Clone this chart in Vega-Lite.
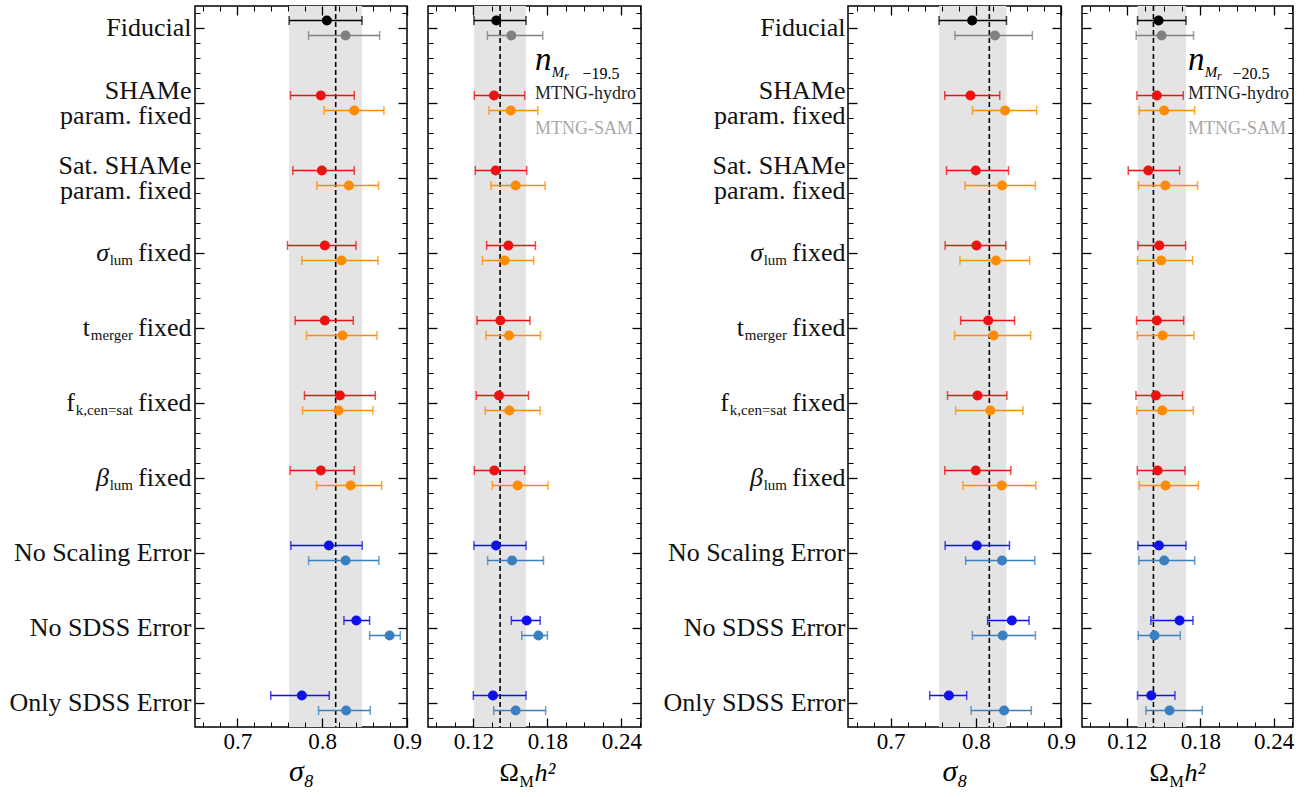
{
"$schema": "https://vega.github.io/schema/vega-lite/v6.json",
"background": "white",
"padding": {"left": 8, "top": 4, "right": 2, "bottom": 2},
"datasets": {
"truth": [{"p":"s8","t":0.8159},{"p":"om","t":0.1417}],
"sub": [{"r":3,"main":"σ","sub":"lum"},{"r":4,"main":"t","sub":"merger"},{"r":5,"main":"f","sub":"k,cen=sat"},{"r":6,"main":"β","sub":"lum"}],
"est": [
{"s":"19.5","p":"s8","r":0,"m":"hydro","v":0.8055,"lo":0.761,"hi":0.8469},
{"s":"19.5","p":"s8","r":0,"m":"SAM","v":0.8276,"lo":0.7839,"hi":0.8677},
{"s":"19.5","p":"s8","r":1,"m":"hydro","v":0.7984,"lo":0.7626,"hi":0.8378},
{"s":"19.5","p":"s8","r":1,"m":"SAM","v":0.8378,"lo":0.8024,"hi":0.8728},
{"s":"19.5","p":"s8","r":2,"m":"hydro","v":0.7996,"lo":0.7654,"hi":0.8378},
{"s":"19.5","p":"s8","r":2,"m":"SAM","v":0.8315,"lo":0.7937,"hi":0.8665},
{"s":"19.5","p":"s8","r":3,"m":"hydro","v":0.8031,"lo":0.7591,"hi":0.8398},
{"s":"19.5","p":"s8","r":3,"m":"SAM","v":0.8228,"lo":0.776,"hi":0.8657},
{"s":"19.5","p":"s8","r":4,"m":"hydro","v":0.8031,"lo":0.7681,"hi":0.8366},
{"s":"19.5","p":"s8","r":4,"m":"SAM","v":0.824,"lo":0.7815,"hi":0.8646},
{"s":"19.5","p":"s8","r":5,"m":"hydro","v":0.8209,"lo":0.7791,"hi":0.8626},
{"s":"19.5","p":"s8","r":5,"m":"SAM","v":0.8193,"lo":0.7768,"hi":0.8598},
{"s":"19.5","p":"s8","r":6,"m":"hydro","v":0.7984,"lo":0.7622,"hi":0.8378},
{"s":"19.5","p":"s8","r":6,"m":"SAM","v":0.8335,"lo":0.7933,"hi":0.8701},
{"s":"19.5","p":"s8","r":7,"m":"hydro","v":0.8079,"lo":0.763,"hi":0.8472},
{"s":"19.5","p":"s8","r":7,"m":"SAM","v":0.8276,"lo":0.7839,"hi":0.8669},
{"s":"19.5","p":"s8","r":8,"m":"hydro","v":0.8402,"lo":0.8256,"hi":0.8559},
{"s":"19.5","p":"s8","r":8,"m":"SAM","v":0.8795,"lo":0.8559,"hi":0.8921},
{"s":"19.5","p":"s8","r":9,"m":"hydro","v":0.776,"lo":0.7394,"hi":0.8083},
{"s":"19.5","p":"s8","r":9,"m":"SAM","v":0.8283,"lo":0.7957,"hi":0.8567},
{"s":"19.5","p":"om","r":0,"m":"hydro","v":0.1386,"lo":0.1205,"hi":0.1627},
{"s":"19.5","p":"om","r":0,"m":"SAM","v":0.1508,"lo":0.1314,"hi":0.1762},
{"s":"19.5","p":"om","r":1,"m":"hydro","v":0.1368,"lo":0.1208,"hi":0.1616},
{"s":"19.5","p":"om","r":1,"m":"SAM","v":0.1503,"lo":0.1327,"hi":0.1722},
{"s":"19.5","p":"om","r":2,"m":"hydro","v":0.1381,"lo":0.1216,"hi":0.1632},
{"s":"19.5","p":"om","r":2,"m":"SAM","v":0.1543,"lo":0.1343,"hi":0.1781},
{"s":"19.5","p":"om","r":3,"m":"hydro","v":0.1484,"lo":0.1308,"hi":0.1703},
{"s":"19.5","p":"om","r":3,"m":"SAM","v":0.1454,"lo":0.1273,"hi":0.1689},
{"s":"19.5","p":"om","r":4,"m":"hydro","v":0.1419,"lo":0.123,"hi":0.1659},
{"s":"19.5","p":"om","r":4,"m":"SAM","v":0.1489,"lo":0.1303,"hi":0.1743},
{"s":"19.5","p":"om","r":5,"m":"hydro","v":0.1408,"lo":0.1224,"hi":0.1646},
{"s":"19.5","p":"om","r":5,"m":"SAM","v":0.1492,"lo":0.1297,"hi":0.1741},
{"s":"19.5","p":"om","r":6,"m":"hydro","v":0.137,"lo":0.1208,"hi":0.1616},
{"s":"19.5","p":"om","r":6,"m":"SAM","v":0.1559,"lo":0.1354,"hi":0.1805},
{"s":"19.5","p":"om","r":7,"m":"hydro","v":0.1384,"lo":0.1205,"hi":0.1627},
{"s":"19.5","p":"om","r":7,"m":"SAM","v":0.1514,"lo":0.1316,"hi":0.1768},
{"s":"19.5","p":"om","r":8,"m":"hydro","v":0.1632,"lo":0.1508,"hi":0.1741},
{"s":"19.5","p":"om","r":8,"m":"SAM","v":0.1727,"lo":0.1592,"hi":0.18},
{"s":"19.5","p":"om","r":9,"m":"hydro","v":0.1359,"lo":0.12,"hi":0.1627},
{"s":"19.5","p":"om","r":9,"m":"SAM","v":0.1543,"lo":0.1365,"hi":0.1786},
{"s":"20.5","p":"s8","r":0,"m":"hydro","v":0.7957,"lo":0.7569,"hi":0.836},
{"s":"20.5","p":"s8","r":0,"m":"SAM","v":0.8225,"lo":0.7755,"hi":0.8664},
{"s":"20.5","p":"s8","r":1,"m":"hydro","v":0.7937,"lo":0.7636,"hi":0.8281},
{"s":"20.5","p":"s8","r":1,"m":"SAM","v":0.8344,"lo":0.796,"hi":0.8715},
{"s":"20.5","p":"s8","r":2,"m":"hydro","v":0.8,"lo":0.7656,"hi":0.8383},
{"s":"20.5","p":"s8","r":2,"m":"SAM","v":0.8308,"lo":0.7874,"hi":0.87},
{"s":"20.5","p":"s8","r":3,"m":"hydro","v":0.8008,"lo":0.764,"hi":0.8352},
{"s":"20.5","p":"s8","r":3,"m":"SAM","v":0.8237,"lo":0.7814,"hi":0.8632},
{"s":"20.5","p":"s8","r":4,"m":"hydro","v":0.8146,"lo":0.7822,"hi":0.8455},
{"s":"20.5","p":"s8","r":4,"m":"SAM","v":0.8209,"lo":0.7751,"hi":0.8644},
{"s":"20.5","p":"s8","r":5,"m":"hydro","v":0.802,"lo":0.7668,"hi":0.8364},
{"s":"20.5","p":"s8","r":5,"m":"SAM","v":0.817,"lo":0.7763,"hi":0.8553},
{"s":"20.5","p":"s8","r":6,"m":"hydro","v":0.8,"lo":0.7636,"hi":0.8411},
{"s":"20.5","p":"s8","r":6,"m":"SAM","v":0.8304,"lo":0.785,"hi":0.8704},
{"s":"20.5","p":"s8","r":7,"m":"hydro","v":0.8012,"lo":0.764,"hi":0.8395},
{"s":"20.5","p":"s8","r":7,"m":"SAM","v":0.8308,"lo":0.7881,"hi":0.8692},
{"s":"20.5","p":"s8","r":8,"m":"hydro","v":0.8423,"lo":0.8138,"hi":0.8625},
{"s":"20.5","p":"s8","r":8,"m":"SAM","v":0.8316,"lo":0.796,"hi":0.87},
{"s":"20.5","p":"s8","r":9,"m":"hydro","v":0.7684,"lo":0.7459,"hi":0.7893},
{"s":"20.5","p":"s8","r":9,"m":"SAM","v":0.8332,"lo":0.7945,"hi":0.8652},
{"s":"20.5","p":"om","r":0,"m":"hydro","v":0.1459,"lo":0.1287,"hi":0.1683},
{"s":"20.5","p":"om","r":0,"m":"SAM","v":0.1484,"lo":0.1276,"hi":0.1745},
{"s":"20.5","p":"om","r":1,"m":"hydro","v":0.1445,"lo":0.1282,"hi":0.1661},
{"s":"20.5","p":"om","r":1,"m":"SAM","v":0.1505,"lo":0.1301,"hi":0.1754},
{"s":"20.5","p":"om","r":2,"m":"hydro","v":0.1375,"lo":0.1211,"hi":0.1631},
{"s":"20.5","p":"om","r":2,"m":"SAM","v":0.1514,"lo":0.1295,"hi":0.1778},
{"s":"20.5","p":"om","r":3,"m":"hydro","v":0.1465,"lo":0.129,"hi":0.168},
{"s":"20.5","p":"om","r":3,"m":"SAM","v":0.1481,"lo":0.1287,"hi":0.1737},
{"s":"20.5","p":"om","r":4,"m":"hydro","v":0.1445,"lo":0.1279,"hi":0.1664},
{"s":"20.5","p":"om","r":4,"m":"SAM","v":0.1492,"lo":0.1285,"hi":0.1748},
{"s":"20.5","p":"om","r":5,"m":"hydro","v":0.1437,"lo":0.1274,"hi":0.1655},
{"s":"20.5","p":"om","r":5,"m":"SAM","v":0.1489,"lo":0.1282,"hi":0.1743},
{"s":"20.5","p":"om","r":6,"m":"hydro","v":0.1451,"lo":0.1285,"hi":0.1675},
{"s":"20.5","p":"om","r":6,"m":"SAM","v":0.1516,"lo":0.1301,"hi":0.1784},
{"s":"20.5","p":"om","r":7,"m":"hydro","v":0.1462,"lo":0.129,"hi":0.1683},
{"s":"20.5","p":"om","r":7,"m":"SAM","v":0.1505,"lo":0.1298,"hi":0.1754},
{"s":"20.5","p":"om","r":8,"m":"hydro","v":0.1631,"lo":0.1396,"hi":0.174},
{"s":"20.5","p":"om","r":8,"m":"SAM","v":0.1426,"lo":0.1293,"hi":0.1636},
{"s":"20.5","p":"om","r":9,"m":"hydro","v":0.1399,"lo":0.1287,"hi":0.1593},
{"s":"20.5","p":"om","r":9,"m":"SAM","v":0.1549,"lo":0.1355,"hi":0.1816}
]
},
"spacing": 21,
"bounds": "flush",
"hconcat": [
{
"width": 212, "height": 721,
"resolve": {"axis": {"x": "independent", "y": "independent"}},
"layer": [
{"data": {"name": "est"}, "transform": [{"filter": "datum.s==='19.5' && datum.p==='s8' && datum.r===0 && datum.m==='hydro'"}],
 "mark": {"type": "rect", "color": "#e4e4e4"},
 "encoding": {"x": {"field": "lo", "type": "quantitative", "scale": {"domain": [0.65, 0.9], "nice": false, "zero": false}, "axis": null}, "x2": {"field": "hi"}}},
{"data": {"name": "truth"}, "transform": [{"filter": "datum.p==='s8'"}],
 "mark": {"type": "rule", "color": "black", "strokeDash": [5, 3], "strokeWidth": 1.6},
 "encoding": {"x": {"field": "t", "type": "quantitative", "scale": {"domain": [0.65, 0.9], "nice": false, "zero": false}, "axis": null}}},
{"data": {"name": "est"}, "transform": [{"filter": "datum.s==='19.5' && datum.p==='s8'"}, {"calculate": "datum.r + (datum.m==='SAM' ? 0.1 : -0.1)", "as": "yp"}, {"calculate": "(datum.r==0 ? 'fid' : (datum.r<7 ? 'par' : 'err')) + '-' + datum.m", "as": "key"}],
 "mark": {"type": "rule", "strokeWidth": 1.5},
 "encoding": {
  "x": {"field": "lo", "type": "quantitative", "scale": {"domain": [0.65, 0.9], "nice": false, "zero": false}, "axis": {"orient": "bottom", "values": [0.7, 0.8, 0.9], "format": ".1f", "offset": -9, "tickSize": 9, "tickWidth": 1.3, "tickColor": "black", "labelFontSize": 23, "labelPadding": 3, "labelFlush": false, "labelOverlap": false, "labelBound": false, "labelColor": "black", "title": "σ₈", "titleFontSize": 30, "titleFontStyle": "italic", "titleFontWeight": "normal", "titlePadding": 3, "titleColor": "black", "zindex": 2, "grid": false, "domain": false}},
  "x2": {"field": "hi"},
  "y": {"field": "yp", "type": "quantitative", "scale": {"domain": [-0.293, 9.32], "reverse": true, "nice": false, "zero": false}, "axis": {"orient": "left", "values": [0,1,2,3,4,5,6,7,8,9], "offset": -9, "tickSize": 9, "tickWidth": 1.3, "tickColor": "black", "labelExpr": "['Fiducial',['SHAMe','param. fixed'],['Sat. SHAMe','param. fixed'],'fixed','fixed','fixed','fixed','No Scaling Error','No SDSS Error','Only SDSS Error'][datum.value]", "labelOffset": {"condition": {"test": "datum.value===1 || datum.value===2", "value": -12.5}, "value": 0}, "labelFontSize": 26, "labelPadding": 4, "labelLineHeight": 25, "labelLimit": 400, "labelOverlap": false, "labelBound": false, "labelFlush": false, "labelColor": "#111111", "title": null, "zindex": 2, "grid": false, "domain": false}},
  "color": {"field": "key", "type": "nominal", "scale": {"domain": ["fid-hydro","fid-SAM","par-hydro","par-SAM","err-hydro","err-SAM"], "range": ["#000000","#808080","#ee1111","#ff8c00","#1010ee","#3a7fbf"]}, "legend": null}}},
{"data": {"name": "est"}, "transform": [{"filter": "datum.s==='19.5' && datum.p==='s8'"}, {"calculate": "datum.r + (datum.m==='SAM' ? 0.1 : -0.1)", "as": "yp"}, {"calculate": "(datum.r==0 ? 'fid' : (datum.r<7 ? 'par' : 'err')) + '-' + datum.m", "as": "key"}],
 "mark": {"type": "tick", "orient": "vertical", "size": 9, "thickness": 1.5, "opacity": 0.75},
 "encoding": {
  "x": {"field": "lo", "type": "quantitative", "scale": {"domain": [0.65, 0.9], "nice": false, "zero": false}, "axis": {"orient": "bottom", "values": [0.66,0.68,0.72,0.74,0.76,0.78,0.82,0.84,0.86,0.88], "offset": -5, "tickSize": 5, "tickWidth": 1, "tickColor": "black", "labels": false, "title": null, "zindex": 2, "grid": false, "domain": false}},
  "y": {"field": "yp", "type": "quantitative", "scale": {"domain": [-0.293, 9.32], "reverse": true, "nice": false, "zero": false}, "axis": {"orient": "left", "values": [-0.2,0.2,0.4,0.6,0.8,1.2,1.4,1.6,1.8,2.2,2.4,2.6,2.8,3.2,3.4,3.6,3.8,4.2,4.4,4.6,4.8,5.2,5.4,5.6,5.8,6.2,6.4,6.6,6.8,7.2,7.4,7.6,7.8,8.2,8.4,8.6,8.8,9.2], "offset": -5, "tickSize": 5, "tickWidth": 1, "tickColor": "black", "labels": false, "title": null, "zindex": 2, "grid": false, "domain": false}},
  "color": {"field": "key", "type": "nominal", "legend": null}}},
{"data": {"name": "est"}, "transform": [{"filter": "datum.s==='19.5' && datum.p==='s8'"}, {"calculate": "datum.r + (datum.m==='SAM' ? 0.1 : -0.1)", "as": "yp"}, {"calculate": "(datum.r==0 ? 'fid' : (datum.r<7 ? 'par' : 'err')) + '-' + datum.m", "as": "key"}],
 "mark": {"type": "tick", "orient": "vertical", "size": 9, "thickness": 1.5, "opacity": 0.75},
 "encoding": {
  "x": {"field": "hi", "type": "quantitative", "scale": {"domain": [0.65, 0.9], "nice": false, "zero": false}, "axis": {"orient": "top", "values": [0.7, 0.8, 0.9], "offset": -9, "tickSize": 9, "tickWidth": 1.3, "tickColor": "black", "labels": false, "title": null, "zindex": 2, "grid": false, "domain": false}},
  "y": {"field": "yp", "type": "quantitative", "scale": {"domain": [-0.293, 9.32], "reverse": true, "nice": false, "zero": false}, "axis": {"orient": "right", "values": [0,1,2,3,4,5,6,7,8,9], "offset": -9, "tickSize": 9, "tickWidth": 1.3, "tickColor": "black", "labels": false, "title": null, "zindex": 2, "grid": false, "domain": false}},
  "color": {"field": "key", "type": "nominal", "legend": null}}},
{"data": {"name": "est"}, "transform": [{"filter": "datum.s==='19.5' && datum.p==='s8'"}, {"calculate": "datum.r + (datum.m==='SAM' ? 0.1 : -0.1)", "as": "yp"}, {"calculate": "(datum.r==0 ? 'fid' : (datum.r<7 ? 'par' : 'err')) + '-' + datum.m", "as": "key"}],
 "mark": {"type": "circle", "size": 100, "opacity": 1},
 "encoding": {
  "x": {"field": "v", "type": "quantitative", "scale": {"domain": [0.65, 0.9], "nice": false, "zero": false}, "axis": {"orient": "top", "values": [0.66,0.68,0.72,0.74,0.76,0.78,0.82,0.84,0.86,0.88], "offset": -5, "tickSize": 5, "tickWidth": 1, "tickColor": "black", "labels": false, "title": null, "zindex": 2, "grid": false, "domain": false}},
  "y": {"field": "yp", "type": "quantitative", "scale": {"domain": [-0.293, 9.32], "reverse": true, "nice": false, "zero": false}, "axis": {"orient": "right", "values": [-0.2,0.2,0.4,0.6,0.8,1.2,1.4,1.6,1.8,2.2,2.4,2.6,2.8,3.2,3.4,3.6,3.8,4.2,4.4,4.6,4.8,5.2,5.4,5.6,5.8,6.2,6.4,6.6,6.8,7.2,7.4,7.6,7.8,8.2,8.4,8.6,8.8,9.2], "offset": -5, "tickSize": 5, "tickWidth": 1, "tickColor": "black", "labels": false, "title": null, "zindex": 2, "grid": false, "domain": false}},
  "color": {"field": "key", "type": "nominal", "legend": null}}},
{"data": {"name": "sub"},
 "mark": {"type": "text", "align": "right", "baseline": "middle", "dx": -62, "dy": 7, "fontSize": 15, "color": "#111111"},
 "encoding": {"x": {"datum": 0.65, "type": "quantitative", "axis": null}, "y": {"field": "r", "type": "quantitative", "axis": null}, "text": {"field": "sub"}}},
{"data": {"name": "sub"}, "transform": [{"filter": "datum.r===3 || datum.r===6"}],
 "mark": {"type": "text", "align": "right", "baseline": "middle", "dx": -86, "fontSize": 26, "fontStyle": "italic", "color": "#111111"},
 "encoding": {"x": {"datum": 0.65, "type": "quantitative", "axis": null}, "y": {"field": "r", "type": "quantitative", "axis": null}, "text": {"field": "main"}}},
{"data": {"name": "sub"}, "transform": [{"filter": "datum.r===4"}],
 "mark": {"type": "text", "align": "right", "baseline": "middle", "dx": -105, "fontSize": 26, "color": "#111111"},
 "encoding": {"x": {"datum": 0.65, "type": "quantitative", "axis": null}, "y": {"field": "r", "type": "quantitative", "axis": null}, "text": {"field": "main"}}},
{"data": {"name": "sub"}, "transform": [{"filter": "datum.r===5"}],
 "mark": {"type": "text", "align": "right", "baseline": "middle", "dx": -120, "fontSize": 26, "color": "#111111"},
 "encoding": {"x": {"datum": 0.65, "type": "quantitative", "axis": null}, "y": {"field": "r", "type": "quantitative", "axis": null}, "text": {"field": "main"}}}
]
},
{
"width": 213, "height": 721,
"resolve": {"axis": {"x": "independent", "y": "independent"}},
"layer": [
{"data": {"name": "est"}, "transform": [{"filter": "datum.s==='19.5' && datum.p==='om' && datum.r===0 && datum.m==='hydro'"}],
 "mark": {"type": "rect", "color": "#e4e4e4"},
 "encoding": {"x": {"field": "lo", "type": "quantitative", "scale": {"domain": [0.0833, 0.2558], "nice": false, "zero": false}, "axis": null}, "x2": {"field": "hi"}}},
{"data": {"name": "truth"}, "transform": [{"filter": "datum.p==='om'"}],
 "mark": {"type": "rule", "color": "black", "strokeDash": [5, 3], "strokeWidth": 1.6},
 "encoding": {"x": {"field": "t", "type": "quantitative", "scale": {"domain": [0.0833, 0.2558], "nice": false, "zero": false}, "axis": null}}},
{"data": {"name": "est"}, "transform": [{"filter": "datum.s==='19.5' && datum.p==='om'"}, {"calculate": "datum.r + (datum.m==='SAM' ? 0.1 : -0.1)", "as": "yp"}, {"calculate": "(datum.r==0 ? 'fid' : (datum.r<7 ? 'par' : 'err')) + '-' + datum.m", "as": "key"}],
 "mark": {"type": "rule", "strokeWidth": 1.5},
 "encoding": {
  "x": {"field": "lo", "type": "quantitative", "scale": {"domain": [0.0833, 0.2558], "nice": false, "zero": false}, "axis": {"orient": "bottom", "values": [0.12, 0.18, 0.24], "format": ".2f", "offset": -9, "tickSize": 9, "tickWidth": 1.3, "tickColor": "black", "labelFontSize": 23, "labelPadding": 3, "labelFlush": false, "labelOverlap": false, "labelBound": false, "labelColor": "black", "title": "Ω", "titleFontSize": 26, "titleFontWeight": "normal", "titleX": 71, "titleY": 62, "titleAlign": "left", "titleBaseline": "alphabetic", "titleColor": "black", "zindex": 2, "grid": false, "domain": false}},
  "x2": {"field": "hi"},
  "y": {"field": "yp", "type": "quantitative", "scale": {"domain": [-0.293, 9.32], "reverse": true, "nice": false, "zero": false}, "axis": {"orient": "left", "values": [0,1,2,3,4,5,6,7,8,9], "offset": -9, "tickSize": 9, "tickWidth": 1.3, "tickColor": "black", "labels": false, "title": null, "zindex": 2, "grid": false, "domain": false}},
  "color": {"field": "key", "type": "nominal", "scale": {"domain": ["fid-hydro","fid-SAM","par-hydro","par-SAM","err-hydro","err-SAM"], "range": ["#000000","#808080","#ee1111","#ff8c00","#1010ee","#3a7fbf"]}, "legend": null}}},
{"data": {"name": "est"}, "transform": [{"filter": "datum.s==='19.5' && datum.p==='om'"}, {"calculate": "datum.r + (datum.m==='SAM' ? 0.1 : -0.1)", "as": "yp"}, {"calculate": "(datum.r==0 ? 'fid' : (datum.r<7 ? 'par' : 'err')) + '-' + datum.m", "as": "key"}],
 "mark": {"type": "tick", "orient": "vertical", "size": 9, "thickness": 1.5, "opacity": 0.75},
 "encoding": {
  "x": {"field": "lo", "type": "quantitative", "scale": {"domain": [0.0833, 0.2558], "nice": false, "zero": false}, "axis": {"orient": "bottom", "values": [0.09,0.105,0.135,0.15,0.165,0.195,0.21,0.225,0.255], "offset": -5, "tickSize": 5, "tickWidth": 1, "tickColor": "black", "labels": false, "title": "M", "titleFontSize": 16, "titleFontWeight": "normal", "titleX": 91, "titleY": 64, "titleAlign": "left", "titleBaseline": "alphabetic", "titleColor": "black", "zindex": 2, "grid": false, "domain": false}},
  "y": {"field": "yp", "type": "quantitative", "scale": {"domain": [-0.293, 9.32], "reverse": true, "nice": false, "zero": false}, "axis": {"orient": "left", "values": [-0.2,0.2,0.4,0.6,0.8,1.2,1.4,1.6,1.8,2.2,2.4,2.6,2.8,3.2,3.4,3.6,3.8,4.2,4.4,4.6,4.8,5.2,5.4,5.6,5.8,6.2,6.4,6.6,6.8,7.2,7.4,7.6,7.8,8.2,8.4,8.6,8.8,9.2], "offset": -5, "tickSize": 5, "tickWidth": 1, "tickColor": "black", "labels": false, "title": null, "zindex": 2, "grid": false, "domain": false}},
  "color": {"field": "key", "type": "nominal", "legend": null}}},
{"data": {"name": "est"}, "transform": [{"filter": "datum.s==='19.5' && datum.p==='om'"}, {"calculate": "datum.r + (datum.m==='SAM' ? 0.1 : -0.1)", "as": "yp"}, {"calculate": "(datum.r==0 ? 'fid' : (datum.r<7 ? 'par' : 'err')) + '-' + datum.m", "as": "key"}],
 "mark": {"type": "tick", "orient": "vertical", "size": 9, "thickness": 1.5, "opacity": 0.75},
 "encoding": {
  "x": {"field": "hi", "type": "quantitative", "scale": {"domain": [0.0833, 0.2558], "nice": false, "zero": false}, "axis": {"orient": "top", "values": [0.12, 0.18, 0.24], "offset": -9, "tickSize": 9, "tickWidth": 1.3, "tickColor": "black", "labels": false, "title": "h²", "titleFontSize": 26, "titleFontStyle": "italic", "titleFontWeight": "normal", "titleX": 106, "titleY": 765, "titleAlign": "left", "titleBaseline": "alphabetic", "titleColor": "black", "zindex": 2, "grid": false, "domain": false}},
  "y": {"field": "yp", "type": "quantitative", "scale": {"domain": [-0.293, 9.32], "reverse": true, "nice": false, "zero": false}, "axis": {"orient": "right", "values": [0,1,2,3,4,5,6,7,8,9], "offset": -9, "tickSize": 9, "tickWidth": 1.3, "tickColor": "black", "labels": false, "title": null, "zindex": 2, "grid": false, "domain": false}},
  "color": {"field": "key", "type": "nominal", "legend": null}}},
{"data": {"name": "est"}, "transform": [{"filter": "datum.s==='19.5' && datum.p==='om'"}, {"calculate": "datum.r + (datum.m==='SAM' ? 0.1 : -0.1)", "as": "yp"}, {"calculate": "(datum.r==0 ? 'fid' : (datum.r<7 ? 'par' : 'err')) + '-' + datum.m", "as": "key"}],
 "mark": {"type": "circle", "size": 100, "opacity": 1},
 "encoding": {
  "x": {"field": "v", "type": "quantitative", "scale": {"domain": [0.0833, 0.2558], "nice": false, "zero": false}, "axis": {"orient": "top", "values": [0.09,0.105,0.135,0.15,0.165,0.195,0.21,0.225,0.255], "offset": -5, "tickSize": 5, "tickWidth": 1, "tickColor": "black", "labels": false, "title": null, "zindex": 2, "grid": false, "domain": false}},
  "y": {"field": "yp", "type": "quantitative", "scale": {"domain": [-0.293, 9.32], "reverse": true, "nice": false, "zero": false}, "axis": {"orient": "right", "values": [-0.2,0.2,0.4,0.6,0.8,1.2,1.4,1.6,1.8,2.2,2.4,2.6,2.8,3.2,3.4,3.6,3.8,4.2,4.4,4.6,4.8,5.2,5.4,5.6,5.8,6.2,6.4,6.6,6.8,7.2,7.4,7.6,7.8,8.2,8.4,8.6,8.8,9.2], "offset": -5, "tickSize": 5, "tickWidth": 1, "tickColor": "black", "labels": false, "title": null, "zindex": 2, "grid": false, "domain": false}},
  "color": {"field": "key", "type": "nominal", "legend": null}}},
{"data": {"values": [{}]}, "mark": {"type": "text", "text": "n", "align": "left", "baseline": "alphabetic", "fontSize": 33, "fontStyle": "italic", "color": "black"},
 "encoding": {"x": {"datum": 0.17, "type": "quantitative", "axis": null}, "y": {"datum": 0.56, "type": "quantitative", "axis": null}}},
{"data": {"values": [{}]}, "mark": {"type": "text", "text": "M", "align": "left", "baseline": "alphabetic", "fontSize": 15, "fontStyle": "italic", "color": "black"},
 "encoding": {"x": {"datum": 0.1836, "type": "quantitative", "axis": null}, "y": {"datum": 0.653, "type": "quantitative", "axis": null}}},
{"data": {"values": [{}]}, "mark": {"type": "text", "text": "r", "align": "left", "baseline": "alphabetic", "fontSize": 12, "fontStyle": "italic", "color": "black"},
 "encoding": {"x": {"datum": 0.1936, "type": "quantitative", "axis": null}, "y": {"datum": 0.69, "type": "quantitative", "axis": null}}},
{"data": {"values": [{}]}, "mark": {"type": "text", "text": "−19.5", "align": "left", "baseline": "alphabetic", "fontSize": 16, "color": "black"},
 "encoding": {"x": {"datum": 0.2084, "type": "quantitative", "axis": null}, "y": {"datum": 0.68, "type": "quantitative", "axis": null}}},
{"data": {"values": [{}]}, "mark": {"type": "text", "text": "MTNG-hydro", "align": "left", "baseline": "middle", "fontSize": 18, "color": "#222222"},
 "encoding": {"x": {"datum": 0.17, "type": "quantitative", "axis": null}, "y": {"datum": 0.885, "type": "quantitative", "axis": null}}},
{"data": {"values": [{}]}, "mark": {"type": "text", "text": "MTNG-SAM", "align": "left", "baseline": "middle", "fontSize": 18, "color": "#a8a8a8"},
 "encoding": {"x": {"datum": 0.17, "type": "quantitative", "axis": null}, "y": {"datum": 1.35, "type": "quantitative", "axis": null}}}
]
},
{
"width": 165, "height": 721,
"view": {"stroke": null, "fill": null},
"data": {"values": []},
"mark": {"type": "point", "opacity": 0}
},
{
"width": 213, "height": 721,
"resolve": {"axis": {"x": "independent", "y": "independent"}},
"layer": [
{"data": {"name": "est"}, "transform": [{"filter": "datum.s==='20.5' && datum.p==='s8' && datum.r===0 && datum.m==='hydro'"}],
 "mark": {"type": "rect", "color": "#e4e4e4"},
 "encoding": {"x": {"field": "lo", "type": "quantitative", "scale": {"domain": [0.65, 0.9], "nice": false, "zero": false}, "axis": null}, "x2": {"field": "hi"}}},
{"data": {"name": "truth"}, "transform": [{"filter": "datum.p==='s8'"}],
 "mark": {"type": "rule", "color": "black", "strokeDash": [5, 3], "strokeWidth": 1.6},
 "encoding": {"x": {"field": "t", "type": "quantitative", "scale": {"domain": [0.65, 0.9], "nice": false, "zero": false}, "axis": null}}},
{"data": {"name": "est"}, "transform": [{"filter": "datum.s==='20.5' && datum.p==='s8'"}, {"calculate": "datum.r + (datum.m==='SAM' ? 0.1 : -0.1)", "as": "yp"}, {"calculate": "(datum.r==0 ? 'fid' : (datum.r<7 ? 'par' : 'err')) + '-' + datum.m", "as": "key"}],
 "mark": {"type": "rule", "strokeWidth": 1.5},
 "encoding": {
  "x": {"field": "lo", "type": "quantitative", "scale": {"domain": [0.65, 0.9], "nice": false, "zero": false}, "axis": {"orient": "bottom", "values": [0.7, 0.8, 0.9], "format": ".1f", "offset": -9, "tickSize": 9, "tickWidth": 1.3, "tickColor": "black", "labelFontSize": 23, "labelPadding": 3, "labelFlush": false, "labelOverlap": false, "labelBound": false, "labelColor": "black", "title": "σ₈", "titleFontSize": 30, "titleFontStyle": "italic", "titleFontWeight": "normal", "titlePadding": 3, "titleColor": "black", "zindex": 2, "grid": false, "domain": false}},
  "x2": {"field": "hi"},
  "y": {"field": "yp", "type": "quantitative", "scale": {"domain": [-0.293, 9.32], "reverse": true, "nice": false, "zero": false}, "axis": {"orient": "left", "values": [0,1,2,3,4,5,6,7,8,9], "offset": -9, "tickSize": 9, "tickWidth": 1.3, "tickColor": "black", "labelExpr": "['Fiducial',['SHAMe','param. fixed'],['Sat. SHAMe','param. fixed'],'fixed','fixed','fixed','fixed','No Scaling Error','No SDSS Error','Only SDSS Error'][datum.value]", "labelOffset": {"condition": {"test": "datum.value===1 || datum.value===2", "value": -12.5}, "value": 0}, "labelFontSize": 26, "labelPadding": 3, "labelLineHeight": 25, "labelLimit": 400, "labelOverlap": false, "labelBound": false, "labelFlush": false, "labelColor": "#111111", "title": null, "zindex": 2, "grid": false, "domain": false}},
  "color": {"field": "key", "type": "nominal", "scale": {"domain": ["fid-hydro","fid-SAM","par-hydro","par-SAM","err-hydro","err-SAM"], "range": ["#000000","#808080","#ee1111","#ff8c00","#1010ee","#3a7fbf"]}, "legend": null}}},
{"data": {"name": "est"}, "transform": [{"filter": "datum.s==='20.5' && datum.p==='s8'"}, {"calculate": "datum.r + (datum.m==='SAM' ? 0.1 : -0.1)", "as": "yp"}, {"calculate": "(datum.r==0 ? 'fid' : (datum.r<7 ? 'par' : 'err')) + '-' + datum.m", "as": "key"}],
 "mark": {"type": "tick", "orient": "vertical", "size": 9, "thickness": 1.5, "opacity": 0.75},
 "encoding": {
  "x": {"field": "lo", "type": "quantitative", "scale": {"domain": [0.65, 0.9], "nice": false, "zero": false}, "axis": {"orient": "bottom", "values": [0.66,0.68,0.72,0.74,0.76,0.78,0.82,0.84,0.86,0.88], "offset": -5, "tickSize": 5, "tickWidth": 1, "tickColor": "black", "labels": false, "title": null, "zindex": 2, "grid": false, "domain": false}},
  "y": {"field": "yp", "type": "quantitative", "scale": {"domain": [-0.293, 9.32], "reverse": true, "nice": false, "zero": false}, "axis": {"orient": "left", "values": [-0.2,0.2,0.4,0.6,0.8,1.2,1.4,1.6,1.8,2.2,2.4,2.6,2.8,3.2,3.4,3.6,3.8,4.2,4.4,4.6,4.8,5.2,5.4,5.6,5.8,6.2,6.4,6.6,6.8,7.2,7.4,7.6,7.8,8.2,8.4,8.6,8.8,9.2], "offset": -5, "tickSize": 5, "tickWidth": 1, "tickColor": "black", "labels": false, "title": null, "zindex": 2, "grid": false, "domain": false}},
  "color": {"field": "key", "type": "nominal", "legend": null}}},
{"data": {"name": "est"}, "transform": [{"filter": "datum.s==='20.5' && datum.p==='s8'"}, {"calculate": "datum.r + (datum.m==='SAM' ? 0.1 : -0.1)", "as": "yp"}, {"calculate": "(datum.r==0 ? 'fid' : (datum.r<7 ? 'par' : 'err')) + '-' + datum.m", "as": "key"}],
 "mark": {"type": "tick", "orient": "vertical", "size": 9, "thickness": 1.5, "opacity": 0.75},
 "encoding": {
  "x": {"field": "hi", "type": "quantitative", "scale": {"domain": [0.65, 0.9], "nice": false, "zero": false}, "axis": {"orient": "top", "values": [0.7, 0.8, 0.9], "offset": -9, "tickSize": 9, "tickWidth": 1.3, "tickColor": "black", "labels": false, "title": null, "zindex": 2, "grid": false, "domain": false}},
  "y": {"field": "yp", "type": "quantitative", "scale": {"domain": [-0.293, 9.32], "reverse": true, "nice": false, "zero": false}, "axis": {"orient": "right", "values": [0,1,2,3,4,5,6,7,8,9], "offset": -9, "tickSize": 9, "tickWidth": 1.3, "tickColor": "black", "labels": false, "title": null, "zindex": 2, "grid": false, "domain": false}},
  "color": {"field": "key", "type": "nominal", "legend": null}}},
{"data": {"name": "est"}, "transform": [{"filter": "datum.s==='20.5' && datum.p==='s8'"}, {"calculate": "datum.r + (datum.m==='SAM' ? 0.1 : -0.1)", "as": "yp"}, {"calculate": "(datum.r==0 ? 'fid' : (datum.r<7 ? 'par' : 'err')) + '-' + datum.m", "as": "key"}],
 "mark": {"type": "circle", "size": 100, "opacity": 1},
 "encoding": {
  "x": {"field": "v", "type": "quantitative", "scale": {"domain": [0.65, 0.9], "nice": false, "zero": false}, "axis": {"orient": "top", "values": [0.66,0.68,0.72,0.74,0.76,0.78,0.82,0.84,0.86,0.88], "offset": -5, "tickSize": 5, "tickWidth": 1, "tickColor": "black", "labels": false, "title": null, "zindex": 2, "grid": false, "domain": false}},
  "y": {"field": "yp", "type": "quantitative", "scale": {"domain": [-0.293, 9.32], "reverse": true, "nice": false, "zero": false}, "axis": {"orient": "right", "values": [-0.2,0.2,0.4,0.6,0.8,1.2,1.4,1.6,1.8,2.2,2.4,2.6,2.8,3.2,3.4,3.6,3.8,4.2,4.4,4.6,4.8,5.2,5.4,5.6,5.8,6.2,6.4,6.6,6.8,7.2,7.4,7.6,7.8,8.2,8.4,8.6,8.8,9.2], "offset": -5, "tickSize": 5, "tickWidth": 1, "tickColor": "black", "labels": false, "title": null, "zindex": 2, "grid": false, "domain": false}},
  "color": {"field": "key", "type": "nominal", "legend": null}}},
{"data": {"name": "sub"},
 "mark": {"type": "text", "align": "right", "baseline": "middle", "dx": -61, "dy": 7, "fontSize": 15, "color": "#111111"},
 "encoding": {"x": {"datum": 0.65, "type": "quantitative", "axis": null}, "y": {"field": "r", "type": "quantitative", "axis": null}, "text": {"field": "sub"}}},
{"data": {"name": "sub"}, "transform": [{"filter": "datum.r===3 || datum.r===6"}],
 "mark": {"type": "text", "align": "right", "baseline": "middle", "dx": -85, "fontSize": 26, "fontStyle": "italic", "color": "#111111"},
 "encoding": {"x": {"datum": 0.65, "type": "quantitative", "axis": null}, "y": {"field": "r", "type": "quantitative", "axis": null}, "text": {"field": "main"}}},
{"data": {"name": "sub"}, "transform": [{"filter": "datum.r===4"}],
 "mark": {"type": "text", "align": "right", "baseline": "middle", "dx": -104, "fontSize": 26, "color": "#111111"},
 "encoding": {"x": {"datum": 0.65, "type": "quantitative", "axis": null}, "y": {"field": "r", "type": "quantitative", "axis": null}, "text": {"field": "main"}}},
{"data": {"name": "sub"}, "transform": [{"filter": "datum.r===5"}],
 "mark": {"type": "text", "align": "right", "baseline": "middle", "dx": -119, "fontSize": 26, "color": "#111111"},
 "encoding": {"x": {"datum": 0.65, "type": "quantitative", "axis": null}, "y": {"field": "r", "type": "quantitative", "axis": null}, "text": {"field": "main"}}}
]
},
{
"width": 211, "height": 721,
"resolve": {"axis": {"x": "independent", "y": "independent"}},
"layer": [
{"data": {"name": "est"}, "transform": [{"filter": "datum.s==='20.5' && datum.p==='om' && datum.r===0 && datum.m==='hydro'"}],
 "mark": {"type": "rect", "color": "#e4e4e4"},
 "encoding": {"x": {"field": "lo", "type": "quantitative", "scale": {"domain": [0.0833, 0.2558], "nice": false, "zero": false}, "axis": null}, "x2": {"field": "hi"}}},
{"data": {"name": "truth"}, "transform": [{"filter": "datum.p==='om'"}],
 "mark": {"type": "rule", "color": "black", "strokeDash": [5, 3], "strokeWidth": 1.6},
 "encoding": {"x": {"field": "t", "type": "quantitative", "scale": {"domain": [0.0833, 0.2558], "nice": false, "zero": false}, "axis": null}}},
{"data": {"name": "est"}, "transform": [{"filter": "datum.s==='20.5' && datum.p==='om'"}, {"calculate": "datum.r + (datum.m==='SAM' ? 0.1 : -0.1)", "as": "yp"}, {"calculate": "(datum.r==0 ? 'fid' : (datum.r<7 ? 'par' : 'err')) + '-' + datum.m", "as": "key"}],
 "mark": {"type": "rule", "strokeWidth": 1.5},
 "encoding": {
  "x": {"field": "lo", "type": "quantitative", "scale": {"domain": [0.0833, 0.2558], "nice": false, "zero": false}, "axis": {"orient": "bottom", "values": [0.12, 0.18, 0.24], "format": ".2f", "offset": -9, "tickSize": 9, "tickWidth": 1.3, "tickColor": "black", "labelFontSize": 23, "labelPadding": 3, "labelFlush": false, "labelOverlap": false, "labelBound": false, "labelColor": "black", "title": "Ω", "titleFontSize": 26, "titleFontWeight": "normal", "titleX": 67, "titleY": 62, "titleAlign": "left", "titleBaseline": "alphabetic", "titleColor": "black", "zindex": 2, "grid": false, "domain": false}},
  "x2": {"field": "hi"},
  "y": {"field": "yp", "type": "quantitative", "scale": {"domain": [-0.293, 9.32], "reverse": true, "nice": false, "zero": false}, "axis": {"orient": "left", "values": [0,1,2,3,4,5,6,7,8,9], "offset": -9, "tickSize": 9, "tickWidth": 1.3, "tickColor": "black", "labels": false, "title": null, "zindex": 2, "grid": false, "domain": false}},
  "color": {"field": "key", "type": "nominal", "scale": {"domain": ["fid-hydro","fid-SAM","par-hydro","par-SAM","err-hydro","err-SAM"], "range": ["#000000","#808080","#ee1111","#ff8c00","#1010ee","#3a7fbf"]}, "legend": null}}},
{"data": {"name": "est"}, "transform": [{"filter": "datum.s==='20.5' && datum.p==='om'"}, {"calculate": "datum.r + (datum.m==='SAM' ? 0.1 : -0.1)", "as": "yp"}, {"calculate": "(datum.r==0 ? 'fid' : (datum.r<7 ? 'par' : 'err')) + '-' + datum.m", "as": "key"}],
 "mark": {"type": "tick", "orient": "vertical", "size": 9, "thickness": 1.5, "opacity": 0.75},
 "encoding": {
  "x": {"field": "lo", "type": "quantitative", "scale": {"domain": [0.0833, 0.2558], "nice": false, "zero": false}, "axis": {"orient": "bottom", "values": [0.09,0.105,0.135,0.15,0.165,0.195,0.21,0.225,0.255], "offset": -5, "tickSize": 5, "tickWidth": 1, "tickColor": "black", "labels": false, "title": "M", "titleFontSize": 16, "titleFontWeight": "normal", "titleX": 87, "titleY": 64, "titleAlign": "left", "titleBaseline": "alphabetic", "titleColor": "black", "zindex": 2, "grid": false, "domain": false}},
  "y": {"field": "yp", "type": "quantitative", "scale": {"domain": [-0.293, 9.32], "reverse": true, "nice": false, "zero": false}, "axis": {"orient": "left", "values": [-0.2,0.2,0.4,0.6,0.8,1.2,1.4,1.6,1.8,2.2,2.4,2.6,2.8,3.2,3.4,3.6,3.8,4.2,4.4,4.6,4.8,5.2,5.4,5.6,5.8,6.2,6.4,6.6,6.8,7.2,7.4,7.6,7.8,8.2,8.4,8.6,8.8,9.2], "offset": -5, "tickSize": 5, "tickWidth": 1, "tickColor": "black", "labels": false, "title": null, "zindex": 2, "grid": false, "domain": false}},
  "color": {"field": "key", "type": "nominal", "legend": null}}},
{"data": {"name": "est"}, "transform": [{"filter": "datum.s==='20.5' && datum.p==='om'"}, {"calculate": "datum.r + (datum.m==='SAM' ? 0.1 : -0.1)", "as": "yp"}, {"calculate": "(datum.r==0 ? 'fid' : (datum.r<7 ? 'par' : 'err')) + '-' + datum.m", "as": "key"}],
 "mark": {"type": "tick", "orient": "vertical", "size": 9, "thickness": 1.5, "opacity": 0.75},
 "encoding": {
  "x": {"field": "hi", "type": "quantitative", "scale": {"domain": [0.0833, 0.2558], "nice": false, "zero": false}, "axis": {"orient": "top", "values": [0.12, 0.18, 0.24], "offset": -9, "tickSize": 9, "tickWidth": 1.3, "tickColor": "black", "labels": false, "title": "h²", "titleFontSize": 26, "titleFontStyle": "italic", "titleFontWeight": "normal", "titleX": 102, "titleY": 765, "titleAlign": "left", "titleBaseline": "alphabetic", "titleColor": "black", "zindex": 2, "grid": false, "domain": false}},
  "y": {"field": "yp", "type": "quantitative", "scale": {"domain": [-0.293, 9.32], "reverse": true, "nice": false, "zero": false}, "axis": {"orient": "right", "values": [0,1,2,3,4,5,6,7,8,9], "offset": -9, "tickSize": 9, "tickWidth": 1.3, "tickColor": "black", "labels": false, "title": null, "zindex": 2, "grid": false, "domain": false}},
  "color": {"field": "key", "type": "nominal", "legend": null}}},
{"data": {"name": "est"}, "transform": [{"filter": "datum.s==='20.5' && datum.p==='om'"}, {"calculate": "datum.r + (datum.m==='SAM' ? 0.1 : -0.1)", "as": "yp"}, {"calculate": "(datum.r==0 ? 'fid' : (datum.r<7 ? 'par' : 'err')) + '-' + datum.m", "as": "key"}],
 "mark": {"type": "circle", "size": 100, "opacity": 1},
 "encoding": {
  "x": {"field": "v", "type": "quantitative", "scale": {"domain": [0.0833, 0.2558], "nice": false, "zero": false}, "axis": {"orient": "top", "values": [0.09,0.105,0.135,0.15,0.165,0.195,0.21,0.225,0.255], "offset": -5, "tickSize": 5, "tickWidth": 1, "tickColor": "black", "labels": false, "title": null, "zindex": 2, "grid": false, "domain": false}},
  "y": {"field": "yp", "type": "quantitative", "scale": {"domain": [-0.293, 9.32], "reverse": true, "nice": false, "zero": false}, "axis": {"orient": "right", "values": [-0.2,0.2,0.4,0.6,0.8,1.2,1.4,1.6,1.8,2.2,2.4,2.6,2.8,3.2,3.4,3.6,3.8,4.2,4.4,4.6,4.8,5.2,5.4,5.6,5.8,6.2,6.4,6.6,6.8,7.2,7.4,7.6,7.8,8.2,8.4,8.6,8.8,9.2], "offset": -5, "tickSize": 5, "tickWidth": 1, "tickColor": "black", "labels": false, "title": null, "zindex": 2, "grid": false, "domain": false}},
  "color": {"field": "key", "type": "nominal", "legend": null}}},
{"data": {"values": [{}]}, "mark": {"type": "text", "text": "n", "align": "left", "baseline": "alphabetic", "fontSize": 33, "fontStyle": "italic", "color": "black"},
 "encoding": {"x": {"datum": 0.17, "type": "quantitative", "axis": null}, "y": {"datum": 0.56, "type": "quantitative", "axis": null}}},
{"data": {"values": [{}]}, "mark": {"type": "text", "text": "M", "align": "left", "baseline": "alphabetic", "fontSize": 15, "fontStyle": "italic", "color": "black"},
 "encoding": {"x": {"datum": 0.1836, "type": "quantitative", "axis": null}, "y": {"datum": 0.653, "type": "quantitative", "axis": null}}},
{"data": {"values": [{}]}, "mark": {"type": "text", "text": "r", "align": "left", "baseline": "alphabetic", "fontSize": 12, "fontStyle": "italic", "color": "black"},
 "encoding": {"x": {"datum": 0.1936, "type": "quantitative", "axis": null}, "y": {"datum": 0.69, "type": "quantitative", "axis": null}}},
{"data": {"values": [{}]}, "mark": {"type": "text", "text": "−20.5", "align": "left", "baseline": "alphabetic", "fontSize": 16, "color": "black"},
 "encoding": {"x": {"datum": 0.2064, "type": "quantitative", "axis": null}, "y": {"datum": 0.68, "type": "quantitative", "axis": null}}},
{"data": {"values": [{}]}, "mark": {"type": "text", "text": "MTNG-hydro", "align": "left", "baseline": "middle", "fontSize": 18, "color": "#222222"},
 "encoding": {"x": {"datum": 0.17, "type": "quantitative", "axis": null}, "y": {"datum": 0.885, "type": "quantitative", "axis": null}}},
{"data": {"values": [{}]}, "mark": {"type": "text", "text": "MTNG-SAM", "align": "left", "baseline": "middle", "fontSize": 18, "color": "#a8a8a8"},
 "encoding": {"x": {"datum": 0.17, "type": "quantitative", "axis": null}, "y": {"datum": 1.35, "type": "quantitative", "axis": null}}}
]
}
],
"config": {
 "view": {"stroke": "black", "strokeWidth": 1.5},
 "font": "Liberation Serif",
 "axis": {"labelFont": "Liberation Serif", "titleFont": "Liberation Serif"},
 "text": {"font": "Liberation Serif"}
}
}
